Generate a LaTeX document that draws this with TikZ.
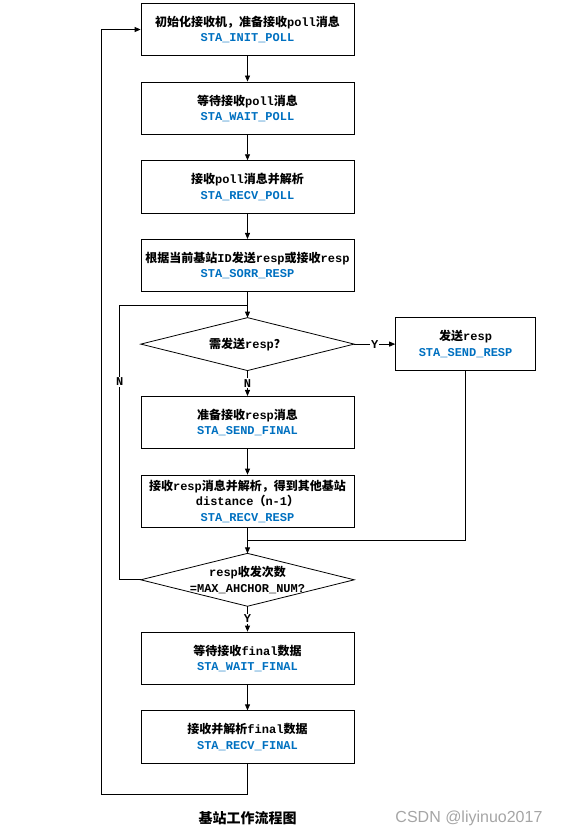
\documentclass[tikz,border=0pt]{standalone}
\usepackage{fontspec}
\setmainfont{Liberation Mono}
\newfontfamily\cjk{Noto Sans CJK SC}
\newfontfamily\wmfont{Liberation Sans}
\usepackage{xcolor}
\usetikzlibrary{arrows.meta, positioning, calc}
\definecolor{stablue}{RGB}{0,112,192}
\definecolor{wmgray}{RGB}{165,165,165}
\newcommand{\zh}[1]{{\cjk #1}}
\newcommand{\sta}[1]{{\color{stablue}#1}}
\tikzset{
  state/.style={rectangle, draw=black, line width=0.8pt, align=center, inner sep=2pt,
                font=\bfseries\fontsize{12}{15.5}\selectfont,
                minimum width=213pt, minimum height=52.5pt},
  decide/.style={rectangle, align=center, inner sep=0pt,
                 font=\bfseries\fontsize{12}{15.5}\selectfont,
                 minimum width=213pt, minimum height=52.5pt},
  flow/.style={-{Triangle[length=6pt, width=5pt]}, line width=0.8pt},
  plain/.style={line width=0.8pt},
  yn/.style={fill=white, inner sep=1pt, font=\bfseries\fontsize{12}{13}\selectfont},
}

\begin{document}
\begin{tikzpicture}[x=1pt, y=-1pt, node distance=25.4pt]
\useasboundingbox (0,0) rectangle (562,838);
% main column of states
\node[state] (init) at (247.5,29.5) {\zh{初始化接收机，准备接收}poll\zh{消息}\\ \sta{STA\_INIT\_POLL}};
\node[state, below=of init] (waitpoll) {\zh{等待接收}poll\zh{消息}\\ \sta{STA\_WAIT\_POLL}};
\node[state, below=of waitpoll] (recvpoll) {\zh{接收}poll\zh{消息并解析}\\ \sta{STA\_RECV\_POLL}};
\node[state, below=of recvpoll] (sorr) {\zh{根据当前基站}ID\zh{发送}resp\zh{或接收}resp\\ \sta{STA\_SORR\_RESP}};
\node[decide, below=of sorr] (needsend) {\zh{需发送}resp\zh{？}};
\draw[plain] (needsend.north) -- (needsend.east) -- (needsend.south) -- (needsend.west) -- cycle;
\node[state, minimum width=140pt, right=41pt of needsend] (sendresp) {\zh{发送}resp\\ \sta{STA\_SEND\_RESP}};
\node[state, below=of needsend] (sendfinal) {\zh{准备接收}resp\zh{消息}\\ \sta{STA\_SEND\_FINAL}};
\node[state, below=of sendfinal] (recvresp) {\zh{接收}resp\zh{消息并解析，得到其他基站}\\ distance\zh{（}n-1\zh{）}\\ \sta{STA\_RECV\_RESP}};
\node[decide, below=of recvresp] (countok) {resp\zh{收发次数}\\ =MAX\_AHCHOR\_NUM?};
\draw[plain] (countok.north) -- (countok.east) -- (countok.south) -- (countok.west) -- cycle;
\node[state, below=of countok] (waitfinal) {\zh{等待接收}final\zh{数据}\\ \sta{STA\_WAIT\_FINAL}};
\node[state, below=of waitfinal] (recvfinal) {\zh{接收并解析}final\zh{数据}\\ \sta{STA\_RECV\_FINAL}};

% joins
\coordinate (mergeA) at ($(sorr.south)!0.5!(needsend.north)$);
\coordinate (mergeB) at ($(recvresp.south)!0.5!(countok.north)$);

\draw[flow] (init) -- (waitpoll);
\draw[flow] (waitpoll) -- (recvpoll);
\draw[flow] (recvpoll) -- (sorr);
\draw[flow] (sorr) -- (needsend.north);
\draw[flow] (needsend.east) -- node[yn]{Y} (sendresp);
\draw[flow] (needsend.south) -- node[yn]{N} (sendfinal);
\draw[flow] (sendfinal) -- (recvresp);
\draw[flow] (recvresp) -- (countok.north);
\draw[plain] (sendresp.south) |- (mergeB);
\draw[flow] (countok.south) -- node[yn]{Y} (waitfinal);
\draw[flow] (waitfinal) -- (recvfinal);
\draw[plain] (countok.west) -- ++(-21,0) |- node[yn, pos=0.36]{N} (mergeA); % retry loop
\draw[flow] (recvfinal.south) -- ++(0,31) -| ($(init.west)+(-39,0)$) -- (init.west);

\node (caption) at (247.5,818) {\zh{\bfseries\fontsize{14}{16}\selectfont 基站工作流程图}};
\node[anchor=east, text=wmgray, font=\wmfont\fontsize{16}{18}\selectfont] (mark) at (546,818) {CSDN @liyinuo2017};
\end{tikzpicture}
\end{document}
